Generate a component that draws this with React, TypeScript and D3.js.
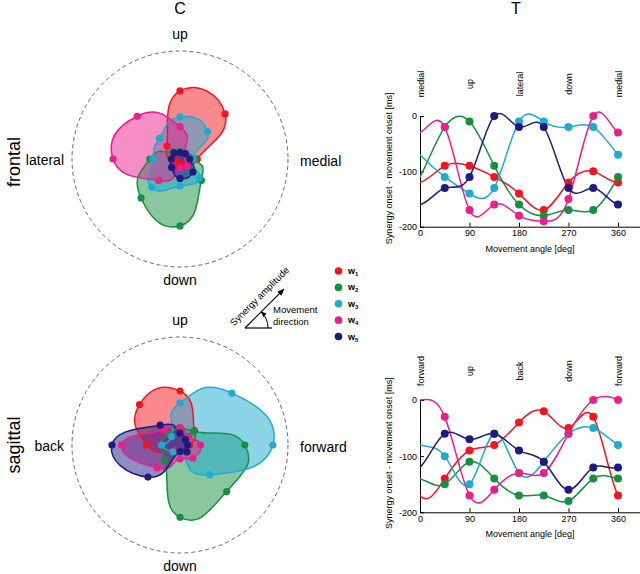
import React, { useEffect, useRef } from "react";
import * as d3 from "d3";

const FONT = "'Liberation Sans', Arial, Helvetica, sans-serif";
const COLORS = ["#f5141e", "#14913f", "#1eaad2", "#eb1e8c", "#1e1a82"];
const SYN_INDEX = ["1", "2", "3", "4", "5"];

// movement directions of the polar plots (deg, 0 = medial/forward, 90 = up)
const DIRS = [0, 45, 90, 135, 180, 225, 270, 315];

// synergy amplitudes (fraction of the dashed outer circle) – frontal plane
const frontalW1 = [0.16, 0.59, 0.63, 0.17, 0.06, 0.04, 0.05, 0.09];
const frontalW2 = [0.14, 0.07, 0.07, 0.09, 0.28, 0.51, 0.62, 0.28];
const frontalW3 = [0.12, 0.36, 0.39, 0.27, 0.25, 0.37, 0.25, 0.25];
const frontalW4 = [0.07, 0.07, 0.3, 0.56, 0.62, 0.28, 0.09, 0.09];
const frontalW5 = [0.09, 0.07, 0.06, 0.08, 0.08, 0.11, 0.18, 0.17];

// synergy amplitudes – sagittal plane
const sagittalW1 = [0.09, 0.19, 0.5, 0.53, 0.31, 0.07, 0.07, 0.09];
const sagittalW2 = [0.6, 0.18, 0.16, 0.14, 0.17, 0.2, 0.67, 0.61];
const sagittalW3 = [0.86, 0.68, 0.39, 0.11, 0.17, 0.09, 0.07, 0.39];
const sagittalW4 = [0.19, 0.11, 0.16, 0.2, 0.54, 0.3, 0.13, 0.17];
const sagittalW5 = [0.07, 0.07, 0.11, 0.26, 0.63, 0.42, 0.06, 0.09];

// onset timing (ms) at movement angles
const ONSET_ANGLES = [45, 90, 135, 180, 225, 270, 315, 360];
const frontalT1 = [-90, -90, -110, -140, -170, -120, -100, -120];
const frontalT2 = [-20, -10, -90, -160, -180, -170, -170, -110];
const frontalT3 = [-110, -140, -130, -10, -10, -20, -20, -70];
const frontalT4 = [-20, -170, -160, -180, -190, -150, 0, -30];
const frontalT5 = [-130, -110, 0, -20, -20, -130, -130, -160];

const sagittalT1 = [-140, -90, -80, -40, -20, -50, -30, -170];
const sagittalT2 = [-150, -110, -140, -170, -170, -180, -140, -140];
const sagittalT3 = [-100, -150, -60, -130, -110, -60, -50, -80];
const sagittalT4 = [-30, -170, -160, -130, -130, -60, 0, 0];
const sagittalT5 = [-60, -70, -60, -90, -110, -160, -120, -120];

const X_TICKS = [0, 90, 180, 270, 360];
const Y_TICKS = [0, -100, -200];
const frontalTop = ["medial", "up", "lateral", "down", "medial"];
const sagittalTop = ["forward", "up", "back", "down", "forward"];

const R = 108;

function Polar({ cx, cy, amps, up, down, left, right }) {
  const rS = d3.scaleLinear().domain([0, 1]).range([0, R]);
  const aS = d3
    .scaleLinear()
    .domain([0, 360])
    .range([Math.PI / 2, Math.PI / 2 - 2 * Math.PI]);
  const gen = d3
    .lineRadial<number>()
    .angle((_, i) => aS(DIRS[i]))
    .radius((d) => rS(d))
    .curve(d3.curveCardinalClosed.tension(-0.8));
  return (
    <g transform={`translate(${cx},${cy})`}>
      <circle r={R} fill="none" stroke="#444" strokeWidth={0.8} strokeDasharray="4,3" />
      {amps.map((a, k) => (
        <path key={"f" + k} d={gen(a) || ""} fill={COLORS[k]} fillOpacity={0.5} stroke="none" />
      ))}
      {amps.map((a, k) => (
        <path key={"s" + k} d={gen(a) || ""} fill="none" stroke={COLORS[k]} strokeWidth={1.5} />
      ))}
      {amps.map((a, k) =>
        a.map((v, i) => {
          const [x, y] = d3.pointRadial(aS(DIRS[i]), rS(v));
          return <circle key={k + "-" + i} cx={x} cy={y} r={3.6} fill={COLORS[k]} />;
        })
      )}
      <text x={0} y={-R - 12.5} textAnchor="middle" fontSize={14}>{up}</text>
      <text x={0} y={R + 18} textAnchor="middle" fontSize={14}>{down}</text>
      <text x={-R - 8} y={6} textAnchor="end" fontSize={14}>{left}</text>
      <text x={R + 12} y={6.5} textAnchor="start" fontSize={14}>{right}</text>
    </g>
  );
}

function LineChart({ id, y0, y200, series, labels, labelY }) {
  const xRef = useRef<SVGGElement>(null);
  const yRef = useRef<SVGGElement>(null);
  const x = d3.scaleLinear().domain([0, 400]).range([420, 640]);
  const y = d3.scaleLinear().domain([-200, 0]).range([y200, y0]);

  useEffect(() => {
    const xa = d3
      .axisBottom(x)
      .tickValues(X_TICKS)
      .tickSize(-4)
      .tickSizeOuter(0)
      .tickPadding(3)
      .tickFormat((d) => String(d));
    const ya = d3
      .axisLeft(y)
      .tickValues(Y_TICKS)
      .tickSize(-4)
      .tickSizeOuter(0)
      .tickPadding(3)
      .tickFormat((d) => String(d));
    const gx = d3.select(xRef.current);
    gx.call(xa as any);
    const gy = d3.select(yRef.current);
    gy.call(ya as any);
    [gx, gy].forEach((g) => {
      g.attr("font-family", FONT).attr("font-size", 9);
      g.selectAll("path,line").attr("stroke", "#000").attr("stroke-width", 1);
      g.selectAll("text").attr("fill", "#000");
    });
  }, []);

  const line = d3
    .line<[number, number]>()
    .x((d) => x(d[0]))
    .y((d) => y(d[1]))
    .curve(d3.curveNatural);

  const extended = (vals: number[]): [number, number][] => {
    const pts: [number, number][] = [
      [ONSET_ANGLES[6] - 360, vals[6]],
      [ONSET_ANGLES[7] - 360, vals[7]],
    ];
    ONSET_ANGLES.forEach((a, i) => pts.push([a, vals[i]]));
    pts.push([ONSET_ANGLES[0] + 360, vals[0]]);
    return pts;
  };

  const mid = (y0 + y200) / 2;
  return (
    <g>
      <defs>
        <clipPath id={id}>
          <rect x={x(0)} y={y0 - 40} width={x(360) - x(0)} height={y200 - y0 + 60} />
        </clipPath>
      </defs>
      {labels.map((t, i) => (
        <text
          key={"l" + i}
          transform={`translate(${x(X_TICKS[i]) + 3.5},${labelY}) rotate(-90)`}
          textAnchor="middle"
          fontSize={9}
        >
          {t}
        </text>
      ))}
      <g ref={xRef} transform={`translate(0,${y200})`} />
      <g ref={yRef} transform={`translate(${x(0)},0)`} />
      <g clipPath={`url(#${id})`}>
        {series.map((vals, k) => (
          <path key={"p" + k} d={line(extended(vals)) || ""} fill="none" stroke={COLORS[k]} strokeWidth={1.5} />
        ))}
      </g>
      {series.map((vals, k) =>
        vals.map((v, i) => (
          <circle key={k + "-" + i} cx={x(ONSET_ANGLES[i])} cy={y(v)} r={4} fill={COLORS[k]} />
        ))
      )}
      <text transform={`translate(391.5,${mid - 3}) rotate(-90)`} textAnchor="middle" fontSize={9}>
        Synergy onset - movement onset [ms]
      </text>
      <text x={530} y={y200 + 25} textAnchor="middle" fontSize={9}>
        Movement angle [deg]
      </text>
    </g>
  );
}

function Legend() {
  const ly = d3.scalePoint<string>().domain(SYN_INDEX).range([271, 336.5]);
  return (
    <g>
      {SYN_INDEX.map((s, k) => (
        <g key={s}>
          <circle cx={338.5} cy={ly(s)} r={3.8} fill={COLORS[k]} />
          <text x={348} y={(ly(s) || 0) + 3} fontSize={9} fontWeight="bold">
            w<tspan fontSize={6} dy={2}>{s}</tspan>
          </text>
        </g>
      ))}
    </g>
  );
}

function Inset() {
  const ox = 245, oy = 328;
  const L = 55;
  const ex = ox + L * Math.cos(Math.PI / 4);
  const ey = oy - L * Math.sin(Math.PI / 4);
  const ar = 23;
  const ax = ox + ar * Math.cos(Math.PI / 4);
  const ay = oy - ar * Math.sin(Math.PI / 4);
  return (
    <g>
      <defs>
        <marker id="arrowHead" viewBox="0 0 10 10" refX="9" refY="5" markerWidth="6" markerHeight="6" orient="auto">
          <path d="M0,1 L10,5 L0,9 z" fill="#000" />
        </marker>
      </defs>
      <line x1={ox} y1={oy} x2={ox + 27} y2={oy} stroke="#000" strokeWidth={1.2} />
      <line x1={ox} y1={oy} x2={ex} y2={ey} stroke="#000" strokeWidth={1.2} markerEnd="url(#arrowHead)" />
      <path
        d={`M${ox + ar},${oy} A${ar},${ar} 0 0 0 ${ax},${ay}`}
        fill="none"
        stroke="#000"
        strokeWidth={1}
        markerEnd="url(#arrowHead)"
      />
      <text transform={`translate(234,326.5) rotate(-45)`} fontSize={9.5}>
        Synergy amplitude
      </text>
      <text x={273} y={313} fontSize={9.5}>Movement</text>
      <text x={273} y={325} fontSize={9.5}>direction</text>
    </g>
  );
}

export default function App() {
  return (
    <svg
      width={640}
      height={574}
      style={{ position: "absolute", left: 0, top: 0, background: "#fff" }}
      fontFamily={FONT}
    >
      <rect width={640} height={574} fill="#fff" />
      <text x={180} y={13.5} textAnchor="middle" fontSize={16}>C</text>
      <text x={516} y={13.5} textAnchor="middle" fontSize={16}>T</text>
      <text transform="translate(20,162) rotate(-90)" textAnchor="middle" fontSize={18}>frontal</text>
      <text transform="translate(20,445) rotate(-90)" textAnchor="middle" fontSize={18}>sagittal</text>

      <Polar
        cx={180}
        cy={159}
        amps={[frontalW1, frontalW2, frontalW3, frontalW4, frontalW5]}
        up="up"
        down="down"
        left="lateral"
        right="medial"
      />
      <Polar
        cx={180}
        cy={445}
        amps={[sagittalW1, sagittalW2, sagittalW3, sagittalW4, sagittalW5]}
        up="up"
        down="down"
        left="back"
        right="forward"
      />

      <Inset />
      <Legend />

      <LineChart
        id="clipTop"
        y0={116}
        y200={226.7}
        series={[frontalT1, frontalT2, frontalT3, frontalT4, frontalT5]}
        labels={frontalTop}
        labelY={84}
      />
      <LineChart
        id="clipBottom"
        y0={400}
        y200={512.3}
        series={[sagittalT1, sagittalT2, sagittalT3, sagittalT4, sagittalT5]}
        labels={sagittalTop}
        labelY={371}
      />
    </svg>
  );
}
